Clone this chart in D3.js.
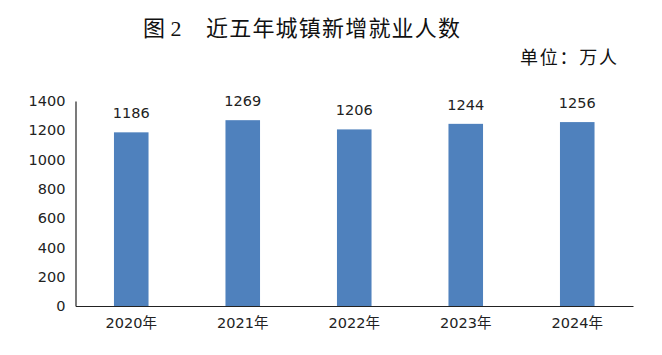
<!DOCTYPE html>
<html><head><meta charset="utf-8">
<script src="https://cdn.jsdelivr.net/npm/d3@7"></script>
<style>body{margin:0;background:#fff;}svg{display:block;}</style>
</head><body>
<svg id="c" width="662" height="355"></svg>
<script>
const categories = ["2020年","2021年","2022年","2023年","2024年"];
const values = [1186,1269,1206,1244,1256];
const yTicks = [0,200,400,600,800,1000,1200,1400];
const titleNo = "图 2";
const title = "近五年城镇新增就业人数";
const unitLabel = "单位：万人";

(function(){
const svg = d3.select("#c");
const mLeft = 75.5, mRight = 633, mTop = 101, mBottom = 306;
const x = d3.scaleBand().domain(categories).range([mLeft, mRight]).paddingInner(0.69).paddingOuter(0.345);
const y = d3.scaleLinear().domain([0,1400]).range([mBottom, mTop]);
const sans = "'DejaVu Sans', 'Noto Sans CJK SC', sans-serif";
const serif = "'Liberation Serif', 'Noto Sans CJK SC', serif";

svg.append("text").attr("x", 143).attr("y", 36).attr("text-anchor","start")
  .attr("font-family", serif).attr("font-size", 22).attr("fill","#111").text(titleNo);
svg.append("text").attr("x", 206).attr("y", 36).attr("text-anchor","start")
  .attr("font-family", serif).attr("font-size", 22).attr("textLength", 254).attr("lengthAdjust","spacing")
  .attr("fill","#111").text(title);
svg.append("text").attr("x", 520).attr("y", 64).attr("text-anchor","start")
  .attr("font-family", serif).attr("font-size", 18).attr("textLength", 97).attr("lengthAdjust","spacing")
  .attr("fill","#111").text(unitLabel);

svg.selectAll("rect.bar").data(values).join("rect").attr("class","bar")
  .attr("x",(d,i)=>x(categories[i])).attr("width",x.bandwidth())
  .attr("y",d=>y(d)).attr("height",d=>mBottom-y(d)).attr("fill","#4F81BD");

svg.selectAll("text.val").data(values).join("text").attr("class","val")
  .attr("x",(d,i)=>x(categories[i])+x.bandwidth()/2).attr("y",d=>y(d)-14)
  .attr("text-anchor","middle").attr("font-family",sans).attr("font-size",14.5).attr("fill","#222").text(d=>d);

const yAxis = d3.axisLeft(y).tickValues(yTicks).tickFormat(d3.format("d")).tickSize(0).tickPadding(10);
const gy = svg.append("g").attr("transform",`translate(${mLeft},0)`).call(yAxis);
gy.select(".domain").attr("stroke","#222").attr("stroke-width",1.2);
gy.selectAll("text").attr("font-family",sans).attr("font-size",14.5).attr("fill","#222");

const xAxis = d3.axisBottom(x).tickSize(0).tickPadding(12);
const gx = svg.append("g").attr("transform",`translate(0,${mBottom})`).call(xAxis);
gx.select(".domain").attr("stroke","#222").attr("stroke-width",1.2);
gx.selectAll("text").attr("font-family",sans).attr("font-size",14.5).attr("fill","#222");
})();
</script>
</body></html>
